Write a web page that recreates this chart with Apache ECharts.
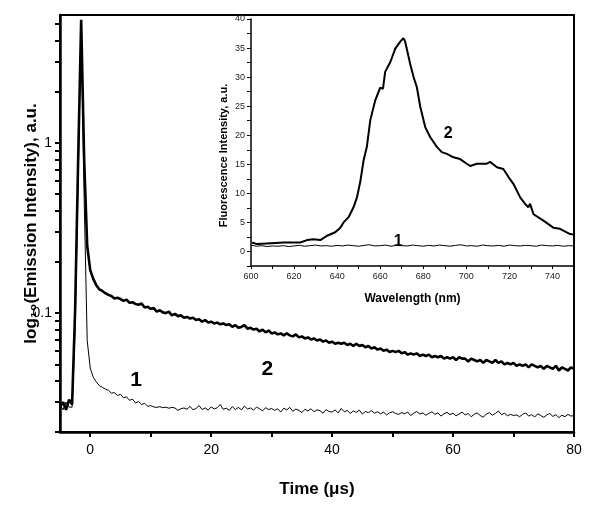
<!DOCTYPE html>
<html><head><meta charset="utf-8">
<script src="https://cdn.jsdelivr.net/npm/echarts@6/dist/echarts.min.js"></script>
<style>html,body{margin:0;padding:0;background:#fff}#c{width:600px;height:515px}</style>
</head><body><div id="c"></div>
<script>
// ---- main plot: time-resolved emission (log scale) ----
const time = [
 -5,-4.5,-4,-3.5,-3,-2.5,-2,-1.5,-1,-0.5,
 0,0.5,1,1.5,2,2.5,3,3.5,4,4.5,
 5,5.5,6,6.5,7,7.5,8,8.5,9,9.5,
 10,10.5,11,11.5,12,12.5,13,13.5,14,14.5,
 15,15.5,16,16.5,17,17.5,18,18.5,19,19.5,
 20,20.5,21,21.5,22,22.5,23,23.5,24,24.5,
 25,25.5,26,26.5,27,27.5,28,28.5,29,29.5,
 30,30.5,31,31.5,32,32.5,33,33.5,34,34.5,
 35,35.5,36,36.5,37,37.5,38,38.5,39,39.5,
 40,40.5,41,41.5,42,42.5,43,43.5,44,44.5,
 45,45.5,46,46.5,47,47.5,48,48.5,49,49.5,
 50,50.5,51,51.5,52,52.5,53,53.5,54,54.5,
 55,55.5,56,56.5,57,57.5,58,58.5,59,59.5,
 60,60.5,61,61.5,62,62.5,63,63.5,64,64.5,
 65,65.5,66,66.5,67,67.5,68,68.5,69,69.5,
 70,70.5,71,71.5,72,72.5,73,73.5,74,74.5,
 75,75.5,76,76.5,77,77.5,78,78.5,79,79.5,
 80];
const decay2 = [
 .028,.030,.027,.031,.029,.104,.79,5.3,.79,.248,
 .179,.159,.146,.138,.135,.131,.128,.126,.122,.123,
 .121,.118,.120,.115,.116,.113,.112,.114,.108,.109,
 .106,.107,.102,.104,.101,.100,.102,.097,.099,.096,
 .097,.094,.095,.093,.094,.091,.092,.089,.091,.088,
 .089,.087,.088,.086,.087,.085,.086,.083,.085,.082,
 .083,.085,.081,.082,.080,.081,.078,.080,.077,.079,
 .076,.077,.075,.076,.074,.076,.074,.073,.075,.072,
 .073,.071,.072,.070,.071,.069,.070,.068,.069,.067,
 .068,.066,.067,.066,.067,.065,.066,.064,.066,.064,
 .065,.063,.064,.062,.063,.061,.062,.060,.061,.059,
 .060,.059,.060,.058,.059,.057,.058,.057,.058,.056,
 .057,.056,.057,.055,.056,.055,.056,.054,.055,.054,
 .055,.053,.055,.054,.054,.052,.054,.053,.052,.053,
 .051,.053,.052,.051,.053,.051,.052,.050,.051,.050,
 .051,.049,.050,.049,.050,.048,.050,.049,.048,.049,
 .047,.049,.048,.047,.049,.046,.048,.047,.046,.048,
 .047];
const decay1 = [
 .029,.027,.030,.028,.028,.080,.60,5.2,.46,.069,
 .0475,.042,.0394,.0375,.0366,.0358,.0352,.0338,.0341,.0328,
 .0333,.0318,.0322,.0307,.0312,.0296,.0302,.0290,.0295,.0283,
 .0286,.0281,.0279,.0282,.0278,.0280,.0276,.0279,.0277,.0268,
 .0274,.0277,.0272,.0283,.0270,.0275,.0286,.0271,.0277,.0269,
 .0281,.0273,.0278,.0290,.0272,.0276,.0268,.0282,.0271,.0279,
 .0270,.0284,.0273,.0277,.0269,.0280,.0274,.0266,.0278,.0271,
 .0275,.0268,.0274,.0262,.0276,.0270,.0279,.0265,.0273,.0268,
 .0260,.0272,.0266,.0274,.0263,.0270,.0267,.0258,.0271,.0264,
 .0262,.0270,.0259,.0275,.0263,.0268,.0257,.0266,.0261,.0269,
 .0255,.0264,.0260,.0267,.0258,.0263,.0256,.0262,.0252,.0259,
 .0263,.0257,.0254,.0260,.0256,.0262,.0250,.0258,.0264,.0255,
 .0259,.0251,.0257,.0263,.0254,.0259,.0248,.0256,.0261,.0253,
 .0258,.0249,.0255,.0262,.0252,.0257,.0246,.0254,.0259,.0250,
 .0244,.0255,.0260,.0251,.0257,.0266,.0253,.0258,.0249,.0254,
 .0250,.0252,.0246,.0254,.0259,.0248,.0253,.0245,.0256,.0250,
 .0244,.0252,.0257,.0247,.0253,.0243,.0251,.0246,.0254,.0248,
 .0250];
const mainXLabels = [0,20,40,60,80];
const mainXTicks = [0,10,20,30,40,50,60,70,80];
const mainYLabels = [0.1,1];
const mainYTicks = [0.02,0.03,0.04,0.05,0.06,0.07,0.08,0.09,0.1,0.2,0.3,0.4,0.5,0.6,0.7,0.8,0.9,1,2,3,4,5];
const mainNotes = [{x:29.3,y:0.0469,t:'2'},{x:7.6,y:0.0403,t:'1'}];

// ---- inset: fluorescence spectra ----
const wl2 = [600.5,602.8,607.4,615.2,622.9,626,629,632.2,635.3,639.1,641.5,643,645.3,647.6,649.2,650.7,652.3,653.8,655.4,656.2,657.7,660,661.3,662.3,664.7,667,669.3,670.8,671.6,673.9,675.5,677,678.6,680.9,683.2,686.3,688.6,691,694,697.1,700.2,701.8,704.9,709.5,711.1,714.2,717.2,719.6,721.9,725,727.3,728.8,729.6,731.2,735.8,740.4,743.5,746.6,748.2,750];
const fl2 = [1.55,1.27,1.38,1.55,1.55,1.96,2.1,1.96,2.7,3.3,4.1,5.0,5.9,7.6,9.3,11.9,15.7,18.0,22.6,22.8,26.0,28.2,28.0,30.9,32.6,34.9,36.1,36.7,36.1,32.3,30.0,28.3,24.9,21.4,19.7,18.0,17.1,16.8,16.2,15.9,15.1,14.7,15.1,15.1,15.4,14.5,14.2,12.8,11.6,9.3,8.2,7.6,8.2,6.4,5.3,4.1,3.9,3.3,3.0,2.9];
const wl1 = [600,602.5,605,607.5,610,612.5,615,617.5,620,622.5,
 625,627.5,630,632.5,635,637.5,640,642.5,645,647.5,
 650,652.5,655,657.5,660,662.5,665,667.5,670,672.5,
 675,677.5,680,682.5,685,687.5,690,692.5,695,697.5,
 700,702.5,705,707.5,710,712.5,715,717.5,720,722.5,
 725,727.5,730,732.5,735,737.5,740,742.5,745,747.5,750];
const fl1 = [1.10,0.90,1.00,0.85,0.95,0.90,1.00,0.85,0.95,1.05,
 0.90,1.00,1.10,0.95,1.00,0.90,1.05,0.95,1.10,1.00,
 0.90,1.05,1.15,0.95,1.00,1.10,0.90,1.05,1.00,0.95,
 1.10,1.00,0.90,1.05,0.95,1.10,1.00,0.90,1.05,1.15,
 0.95,1.00,0.90,1.10,1.00,0.95,1.05,0.90,1.10,1.00,
 0.95,1.05,1.00,0.90,1.10,1.00,0.95,1.05,0.90,1.00,0.95];
const insetXLabels = [600,620,640,660,680,700,720,740];
const insetXTicks = [600,610,620,630,640,650,660,670,680,690,700,710,720,730,740,750];
const insetYLabels = [0,5,10,15,20,25,30,35,40];
const insetYTicks = [-2.5,0,2.5,5,7.5,10,12.5,15,17.5,20,22.5,25,27.5,30,32.5,35,37.5,40];
const insetNotes = [{x:691.6,y:20.3,t:'2'},{x:668.4,y:1.7,t:'1'}];

const FONT = '"Liberation Sans", Arial, sans-serif';
const pair = (xs, ys) => xs.map((x, i) => [x, ys[i]]);
const notes = (arr, size) => ({
  symbol: 'circle', symbolSize: 0, silent: true,
  label: {show: true, position: 'inside', fontSize: size, fontWeight: 'bold', color: '#000', fontFamily: FONT, formatter: p => p.name},
  data: arr.map(n => ({name: n.t, coord: [n.x, n.y]}))
});

const chart = echarts.init(document.getElementById('c'), null, {renderer: 'canvas'});
chart.setOption({
  animation: false,
  backgroundColor: '#fff',
  textStyle: {fontFamily: FONT},
  grid: [
    {left: 60, right: 26, top: 15, bottom: 83, show: true, borderColor: '#000', borderWidth: 2},
    {left: 251, right: 26, top: 19, bottom: 249, show: false}
  ],
  xAxis: [
    {gridIndex: 0, type: 'value', min: -5, max: 80,
     axisLine: {onZero: false, lineStyle: {color: '#000', width: 2.5}},
     axisTick: {customValues: mainXTicks, length: 5, lineStyle: {color: '#000', width: 2}},
     axisLabel: {customValues: mainXLabels, fontSize: 14, color: '#000', margin: 11, fontFamily: FONT},
     splitLine: {show: false},
     name: 'Time (μs)', nameLocation: 'middle', nameGap: 49, nameMoveOverlap: false,
     nameTextStyle: {fontSize: 17, fontWeight: 'bold', color: '#000', fontFamily: FONT}},
    {gridIndex: 1, type: 'value', min: 600, max: 750,
     axisLine: {onZero: false, lineStyle: {color: '#000', width: 1.5}},
     axisTick: {customValues: insetXTicks, length: 3, lineStyle: {color: '#000', width: 1}},
     axisLabel: {customValues: insetXLabels, fontSize: 9, color: '#222', margin: 6, fontFamily: FONT},
     splitLine: {show: false},
     name: 'Wavelength (nm)', nameLocation: 'middle', nameGap: 27, nameMoveOverlap: false,
     nameTextStyle: {fontSize: 12, fontWeight: 'bold', color: '#000', fontFamily: FONT}}
  ],
  yAxis: [
    {gridIndex: 0, type: 'log', logBase: 10, min: 0.02, max: 5.66,
     axisLine: {onZero: false, lineStyle: {color: '#000', width: 2.5}},
     axisTick: {customValues: mainYTicks, length: 5, lineStyle: {color: '#000', width: 2}},
     axisLabel: {customValues: mainYLabels, fontSize: 14, color: '#000', margin: 8, fontFamily: FONT},
     splitLine: {show: false}, minorTick: {show: false},
     name: 'log₁₀(Emission Intensity), a.u.', nameLocation: 'middle', nameGap: 20, nameMoveOverlap: false,
     nameTextStyle: {fontSize: 17, fontWeight: 'bold', color: '#000', fontFamily: FONT}},
    {gridIndex: 1, type: 'value', min: -2.5, max: 40,
     axisLine: {onZero: false, lineStyle: {color: '#000', width: 1.5}},
     axisTick: {customValues: insetYTicks, length: 4, lineStyle: {color: '#000', width: 1}},
     axisLabel: {customValues: insetYLabels, fontSize: 9, color: '#222', margin: 6, fontFamily: FONT},
     splitLine: {show: false},
     name: 'Fluorescence Intensity, a.u.', nameLocation: 'middle', nameGap: 22, nameMoveOverlap: false,
     nameTextStyle: {fontSize: 11, fontWeight: 'bold', color: '#000', fontFamily: FONT, padding: [0, 26, 0, 0]}}
  ],
  series: [
    {type: 'line', xAxisIndex: 0, yAxisIndex: 0, data: pair(time, decay1), showSymbol: false,
     lineStyle: {color: '#000', width: 1}, z: 3, markPoint: notes(mainNotes.slice(1), 21)},
    {type: 'line', xAxisIndex: 0, yAxisIndex: 0, data: pair(time, decay2), showSymbol: false,
     lineStyle: {color: '#000', width: 2.6}, z: 2, markPoint: notes(mainNotes.slice(0, 1), 21)},
    {type: 'line', xAxisIndex: 1, yAxisIndex: 1, data: pair(wl1, fl1), showSymbol: false,
     lineStyle: {color: '#000', width: 1}, markPoint: notes(insetNotes.slice(1), 16)},
    {type: 'line', xAxisIndex: 1, yAxisIndex: 1, data: pair(wl2, fl2), showSymbol: false,
     lineStyle: {color: '#000', width: 2}, markPoint: notes(insetNotes.slice(0, 1), 16)}
  ]
});
</script></body></html>
